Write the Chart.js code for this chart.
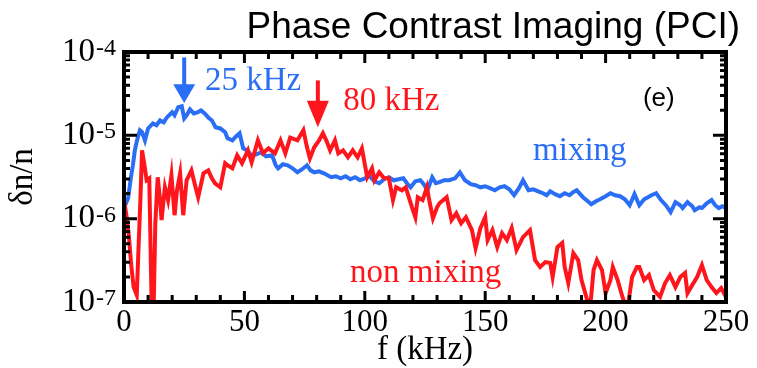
<!DOCTYPE html>
<html>
<head>
<meta charset="utf-8">
<script src="https://cdn.jsdelivr.net/npm/chart.js@4.4.1/dist/chart.umd.min.js"></script>
<style>
  html, body { margin: 0; padding: 0; background: #fff; }
  #wrap { width: 757px; height: 368px; }
</style>
</head>
<body>
<div id="wrap"><canvas id="canvas" width="757" height="368"></canvas></div>
<script>
var titleText = 'Phase Contrast Imaging (PCI)';
var xTicks = [0, 50, 100, 150, 200, 250];
var yTicks = [1e-7, 1e-6, 1e-5, 1e-4];

// mixing (blue)
var mixingFreq = [0.5, 1.7, 3, 3.7, 4.5, 5.4, 6.6, 7.5, 8.7, 10, 12, 13.5, 15, 16.5, 17.8, 20, 21, 22.5, 24, 25,
  26, 27.4, 29, 30.5, 32, 33.5, 35, 36.5, 38, 40, 42, 43, 45, 46.5, 48, 49.5, 51, 53, 55, 57,
  59, 61.5, 63, 64, 66, 68, 70, 72, 74, 76, 77.5, 79, 81, 83, 86, 88, 90, 92, 94, 96,
  98, 100, 102, 104, 106, 108, 110, 112, 114, 116, 117.5, 119, 121, 123, 124.5, 126, 128, 129.5, 131, 133,
  135, 137.5, 139.5, 141.6, 144, 146, 148, 150, 152, 154, 156, 158, 160, 162, 164, 165.7, 168, 170, 172, 174,
  175.5, 177, 179, 181, 183, 185, 186.5, 188, 190.6, 192, 194, 196, 197.7, 200, 202, 204, 206, 208, 210, 212,
  214, 216, 217.6, 219, 221, 223, 225, 227, 229, 231, 232, 234, 236, 237, 239, 240, 242, 244, 245.5, 247,
  248.5, 250];
var mixingAmp = [1.45e-6, 1.76e-6, 3.32e-6, 4.37e-6, 6.6e-6, 8.7e-6, 1.15e-5, 1.09e-5, 8.7e-6, 1.21e-5, 1.39e-5, 1.32e-5, 1.51e-5, 1.43e-5, 1.64e-5, 1.89e-5, 1.74e-5, 2.17e-5, 2.23e-5, 1.6e-5,
  1.74e-5, 2.05e-5, 1.83e-5, 1.89e-5, 1.99e-5, 1.83e-5, 1.64e-5, 1.51e-5, 1.25e-5, 1.21e-5, 1.09e-5, 9.2e-6, 8.7e-6, 9.7e-6, 1.06e-5, 6.98e-6, 6.6e-6, 5.76e-6, 5.92e-6, 6.26e-6,
  5.6e-6, 5.76e-6, 4.37e-6, 4.02e-6, 4.5e-6, 4.37e-6, 4.02e-6, 3.6e-6, 3.92e-6, 4.37e-6, 3.8e-6, 3.6e-6, 3.7e-6, 3.5e-6, 3.14e-6, 3.23e-6, 3.05e-6, 3.23e-6, 2.97e-6, 3.14e-6,
  2.89e-6, 3.05e-6, 3.23e-6, 2.81e-6, 2.66e-6, 2.97e-6, 3.14e-6, 2.89e-6, 2.97e-6, 3.05e-6, 2.66e-6, 2.38e-6, 2.81e-6, 2.89e-6, 2.59e-6, 2.19e-6, 3.14e-6, 2.66e-6, 2.74e-6, 2.89e-6,
  2.89e-6, 3.05e-6, 3.6e-6, 2.89e-6, 2.59e-6, 2.52e-6, 2.38e-6, 2.45e-6, 2.32e-6, 2.19e-6, 2.38e-6, 2.45e-6, 2.25e-6, 1.91e-6, 2.32e-6, 2.89e-6, 2.19e-6, 2.25e-6, 2.13e-6, 2.02e-6,
  1.91e-6, 2.13e-6, 1.97e-6, 1.86e-6, 2.02e-6, 1.91e-6, 2.08e-6, 2.19e-6, 1.81e-6, 1.67e-6, 1.49e-6, 1.62e-6, 1.71e-6, 1.86e-6, 2.02e-6, 1.91e-6, 1.86e-6, 1.71e-6, 1.45e-6, 1.97e-6,
  1.45e-6, 1.71e-6, 1.81e-6, 1.91e-6, 2.02e-6, 1.67e-6, 1.45e-6, 1.2e-6, 1.58e-6, 1.45e-6, 1.34e-6, 1.58e-6, 1.41e-6, 1.26e-6, 1.37e-6, 1.34e-6, 1.53e-6, 1.67e-6, 1.45e-6, 1.34e-6,
  1.41e-6, 1.34e-6];

// non mixing (red)
var nonMixingFreq = [0, 1, 2, 3, 4, 5.3, 6, 6.8, 7.5, 8.5, 9.4, 10.5, 11.6, 12.3, 13, 14, 15, 15.6, 17, 18.3,
  19.7, 21, 22, 23.3, 24.6, 26, 28, 29.5, 30.8, 33, 35, 36.5, 37.8, 40, 41, 42, 43, 45, 47, 49,
  51.5, 53, 55.6, 57.7, 60, 62.7, 65, 67, 69, 72, 74.5, 76, 77.2, 79, 81, 82.6, 84, 85.6, 87.6, 89,
  91, 93, 95, 97, 98.8, 101, 103, 104, 106, 108, 110, 111.7, 113, 115.4, 117, 119.6, 121, 122, 124, 125.8,
  127, 128.3, 130, 131, 134, 136, 138, 140, 142, 144.5, 146, 148, 150, 151, 153, 155, 157, 159, 161, 163,
  165.7, 168.6, 170.7, 172.8, 175, 177, 178, 180, 182, 183, 184.5, 186.6, 188.6, 190, 192, 193.5, 195, 196.4, 198.5, 200,
  202, 203, 205, 207, 209, 211, 213, 214, 216, 218, 220, 222.6, 224.7, 226.7, 229, 231, 233, 234, 236, 238,
  240, 242, 244, 246, 248, 250];
var nonMixingAmp = [1.67e-6, 1.1e-6, 6.35e-7, 2.77e-7, 1.51e-7, 1.21e-7, 4.2e-7, 1.67e-6, 6.6e-6, 4.37e-6, 2.89e-6, 3.05e-6, 6e-8, 8e-8, 8.8e-7, 3.14e-6, 1.67e-6, 9.6e-7, 2.38e-6, 1.67e-6,
  3.32e-6, 1.1e-6, 2.19e-6, 3.5e-6, 1.1e-6, 2.89e-6, 3.8e-6, 2.52e-6, 1.81e-6, 3.5e-6, 3.8e-6, 3.05e-6, 2.66e-6, 2.38e-6, 3.32e-6, 4.63e-6, 4.37e-6, 4.02e-6, 5.76e-6, 4.63e-6,
  6.6e-6, 4.75e-6, 8.7e-6, 6.08e-6, 6.98e-6, 6.08e-6, 8.7e-6, 6.08e-6, 9.4e-6, 8.7e-6, 1.15e-5, 7.18e-6, 5.3e-6, 7.18e-6, 8.7e-6, 1.06e-5, 8.7e-6, 6.6e-6, 8.7e-6, 6.08e-6,
  6.6e-6, 5.45e-6, 6.6e-6, 5.45e-6, 6.98e-6, 3.14e-6, 4.02e-6, 2.89e-6, 3.6e-6, 3.05e-6, 3.05e-6, 1.67e-6, 2.38e-6, 2.19e-6, 2.38e-6, 1.37e-6, 1.04e-6, 1.81e-6, 1.67e-6, 2.38e-6,
  1.53e-6, 1.01e-6, 1.37e-6, 1.53e-6, 1.81e-6, 9.6e-7, 1.16e-6, 8.8e-7, 1.04e-6, 7.28e-7, 4.43e-7, 7.7e-7, 1.04e-6, 5.53e-7, 7.28e-7, 4.56e-7, 6.7e-7, 5.53e-7, 7.7e-7, 4.2e-7,
  6.0e-7, 7.28e-7, 3.18e-7, 2.63e-7, 3.01e-7, 2.94e-7, 1.99e-7, 4.56e-7, 5.1e-7, 2.63e-7, 1.69e-7, 3.86e-7, 3.18e-7, 1.83e-7, 1.15e-7, 8e-8, 2.42e-7, 3.18e-7, 2.42e-7, 1.28e-7,
  1.83e-7, 2.63e-7, 1.83e-7, 1.15e-7, 8e-8, 1.99e-7, 2.63e-7, 2.63e-7, 1.83e-7, 2.1e-7, 1.39e-7, 1.15e-7, 1.69e-7, 2.1e-7, 1.51e-7, 1.99e-7, 2.23e-7, 1.28e-7, 1.6e-7, 1.99e-7,
  2.77e-7, 1.83e-7, 1.51e-7, 1.28e-7, 1.47e-7, 1.15e-7];

var blue = 'rgb(42,110,245)';
var red = 'rgb(255,22,28)';
var serif = '"Liberation Serif", "Times New Roman", serif';
var sans = '"Liberation Sans", Arial, sans-serif';

function toPoints(xs, ys) {
  return xs.map(function (f, i) { return { x: f, y: ys[i] }; });
}

// arrows and texts placed in data coordinates
var arrows = [
  { f: 25, top: 8.6e-5, headStart: 4.1e-5, tip: 2.45e-5, color: blue },
  { f: 80.5, top: 4.56e-5, headStart: 2.6e-5, tip: 1.25e-5, color: red }
];
var notes = [
  { text: '25 kHz', f: 33.6, v: 3.46e-5, color: blue, font: '33px ' + serif },
  { text: '80 kHz', f: 91, v: 1.99e-5, color: red, font: '33px ' + serif },
  { text: '(e)', f: 215.5, v: 2.23e-5, color: '#000', font: '26px ' + sans },
  { text: 'mixing', f: 169.9, v: 5.0e-6, color: blue, font: '33px ' + serif },
  { text: 'non mixing', f: 93.9, v: 1.74e-7, color: red, font: '33px ' + serif }
];

var framePlugin = {
  id: 'frame',
  afterDatasetsDraw: function (chart) {
    var ctx = chart.ctx;
    var xs = chart.scales.x, ys = chart.scales.y;
    var a = chart.chartArea;
    ctx.save();
    ctx.strokeStyle = '#000';
    ctx.lineWidth = 3;
    ctx.beginPath();
    for (var f = 10; f < 250; f += 10) {
      var px = xs.getPixelForValue(f);
      var len = f % 50 === 0 ? 11 : 7;
      ctx.moveTo(px, a.bottom); ctx.lineTo(px, a.bottom - len);
      ctx.moveTo(px, a.top); ctx.lineTo(px, a.top + len);
    }
    for (var d = -7; d < -4; d++) {
      for (var m = 1; m <= 9; m++) {
        if (d === -7 && m === 1) continue;
        var py = ys.getPixelForValue(m * Math.pow(10, d));
        var l = m === 1 ? 13 : 6;
        ctx.moveTo(a.left, py); ctx.lineTo(a.left + l, py);
        ctx.moveTo(a.right, py); ctx.lineTo(a.right - l, py);
      }
    }
    ctx.stroke();
    ctx.lineWidth = 4;
    ctx.strokeRect(a.left, a.top, a.right - a.left, a.bottom - a.top);

    // exponents of the y tick labels
    ctx.fillStyle = '#000';
    ctx.font = '24px ' + serif;
    ctx.textAlign = 'left';
    ctx.textBaseline = 'alphabetic';
    yTicks.forEach(function (v) {
      var py = ys.getPixelForValue(v);
      ctx.fillText('-' + Math.round(-Math.log10(v)), 96, py + 3);
    });

    // arrows
    arrows.forEach(function (ar) {
      var x = xs.getPixelForValue(ar.f);
      var y0 = ys.getPixelForValue(ar.top);
      var y1 = ys.getPixelForValue(ar.headStart);
      var y2 = ys.getPixelForValue(ar.tip);
      ctx.fillStyle = ar.color;
      ctx.fillRect(x - 2, y0, 4, y1 - y0 + 1);
      ctx.beginPath();
      ctx.moveTo(x - 11, y1); ctx.lineTo(x + 11, y1); ctx.lineTo(x, y2);
      ctx.closePath();
      ctx.fill();
    });

    notes.forEach(function (n) {
      ctx.fillStyle = n.color;
      ctx.font = n.font;
      ctx.fillText(n.text, xs.getPixelForValue(n.f), ys.getPixelForValue(n.v));
    });

    ctx.fillStyle = '#000';
    ctx.font = '37px ' + sans;
    ctx.textAlign = 'right';
    ctx.fillText(titleText, 740, 38);
    ctx.restore();
  }
};

window.onload = function () {
  var ctx = document.getElementById('canvas').getContext('2d');
  window.myChart = new Chart(ctx, {
    type: 'line',
    data: {
      datasets: [{
        label: 'non mixing',
        data: toPoints(nonMixingFreq, nonMixingAmp),
        borderColor: red,
        borderWidth: 4,
        pointRadius: 0,
        fill: false,
        tension: 0
      }, {
        label: 'mixing',
        data: toPoints(mixingFreq, mixingAmp),
        borderColor: blue,
        borderWidth: 4,
        pointRadius: 0,
        fill: false,
        tension: 0
      }]
    },
    options: {
      responsive: false,
      animation: false,
      layout: { padding: { top: 52, right: 31, bottom: 0, left: 0 } },
      plugins: { legend: { display: false }, tooltip: { enabled: false }, title: { display: false } },
      scales: {
        x: {
          type: 'linear',
          min: 0,
          max: 250,
          afterBuildTicks: function (s) { s.ticks = xTicks.map(function (v) { return { value: v }; }); },
          afterFit: function (s) { s.height = 66; },
          grid: { display: false, drawTicks: false },
          border: { display: false },
          ticks: { color: '#000', padding: 2, maxRotation: 0, autoSkip: false, font: { family: serif, size: 31 } },
          title: { display: true, text: 'f (kHz)', color: '#000', padding: { top: 0, bottom: 1 }, font: { family: serif, size: 33, lineHeight: 1 } }
        },
        y: {
          type: 'logarithmic',
          min: 1e-7,
          max: 1e-4,
          afterBuildTicks: function (s) { s.ticks = yTicks.map(function (v) { return { value: v }; }); },
          afterFit: function (s) { s.width = 124; },
          grid: { display: false, drawTicks: false },
          border: { display: false },
          ticks: {
            color: '#000', padding: 29, autoSkip: false, font: { family: serif, size: 33 },
            callback: function () { return '10'; }
          },
          title: { display: true, text: 'δn/n', color: '#000', padding: { top: 7, bottom: 0 }, font: { family: serif, size: 33, lineHeight: 1 } }
        }
      }
    },
    plugins: [framePlugin]
  });
};
</script>
</body>
</html>
